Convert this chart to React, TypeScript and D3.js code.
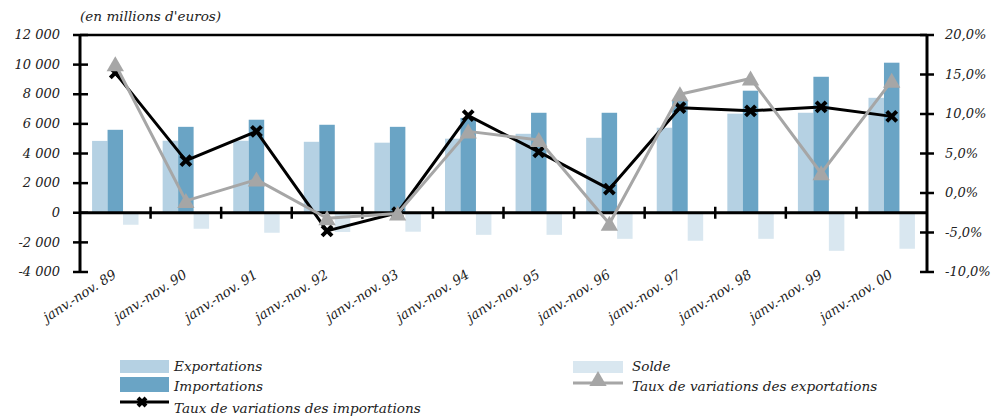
import React from 'react';
import * as d3 from 'd3';

const categories = ['janv.-nov. 89', 'janv.-nov. 90', 'janv.-nov. 91', 'janv.-nov. 92', 'janv.-nov. 93', 'janv.-nov. 94', 'janv.-nov. 95', 'janv.-nov. 96', 'janv.-nov. 97', 'janv.-nov. 98', 'janv.-nov. 99', 'janv.-nov. 00'];
const exportations = [4850, 4860, 4860, 4790, 4730, 5000, 5330, 5060, 5740, 6690, 6750, 7760];
const importations = [5600, 5800, 6280, 5940, 5800, 6400, 6750, 6750, 7560, 8240, 9180, 10130];
const solde = [-810, -1080, -1350, -1300, -1280, -1490, -1490, -1760, -1890, -1760, -2570, -2430];
const tauxImport = [15.2, 4.1, 7.8, -4.8, -2.5, 9.8, 5.2, 0.5, 10.8, 10.4, 10.9, 9.7];
const tauxExport = [16.3, -1.0, 1.7, -3.2, -2.6, 7.8, 6.7, -3.9, 12.5, 14.5, 2.5, 14.2];
const leftTicks = [-4000, -2000, 0, 2000, 4000, 6000, 8000, 10000, 12000];
const rightTicks = [-10, -5, 0, 5, 10, 15, 20];

const C_EXP = '#b5d1e3';
const C_IMP = '#6aa4c5';
const C_SOL = '#d9e7f0';
const C_GRAY = '#a6a6a6';
const FONT = '"DejaVu Serif", serif';

const fmtLeft = (v: number) => (v < 0 ? '-' : '') + d3.format(',')(Math.abs(v)).replace(/,/g, ' ');
const fmtRight = (v: number) => v.toFixed(1).replace('.', ',') + '%';

const crossPath = (s: number) => `M${-s},${-s}L${s},${s}M${-s},${s}L${s},${-s}`;

export default function App() {
  const W = 995, H = 418;
  const left = 80, right = 927, top = 35, bottom = 272;
  const x = d3.scaleBand<string>().domain(categories).range([left, right]).padding(0);
  const sub = d3.scaleBand<string>().domain(['e', 'i', 's']).range([0, x.bandwidth()]).paddingInner(0).paddingOuter(0.78);
  const y = d3.scaleLinear().domain([-4000, 12000]).range([bottom, top]);
  const y2 = d3.scaleLinear().domain([-10, 20]).range([bottom, top]);
  const cx = (c: string) => (x(c) as number) + x.bandwidth() / 2;
  const line = d3.line<number>().x((_, i) => cx(categories[i])).y(d => y2(d));
  const tri = d3.symbol().type(d3.symbolTriangle).size(130)();
  const y0 = y(0);
  const bar = (vals: number[], key: string, color: string) =>
    vals.map((v, i) => (
      <rect key={key + i} x={(x(categories[i]) as number) + (sub(key) as number)} width={sub.bandwidth()}
        y={Math.min(y(v), y0)} height={Math.abs(y(v) - y0)} fill={color} />
    ));

  return (
    <svg width={W} height={H} style={{ position: 'absolute', left: 0, top: 0 }} fontFamily={FONT} fontStyle="italic">
      <text x={80} y={21} fontSize={13.6} fill="#222">(en millions d'euros)</text>
      {bar(exportations, 'e', C_EXP)}
      {bar(importations, 'i', C_IMP)}
      {bar(solde, 's', C_SOL)}
      {/* axes */}
      <line x1={left} x2={right} y1={top} y2={top} stroke="#000" strokeWidth={2.5} />
      <line x1={left} x2={left} y1={top} y2={bottom} stroke="#000" strokeWidth={3} />
      <line x1={right} x2={right} y1={top} y2={bottom} stroke="#000" strokeWidth={3} />
      <line x1={left} x2={right} y1={y0} y2={y0} stroke="#000" strokeWidth={3} />
      {categories.slice(1).map(c => (
        <line key={'xt' + c} x1={x(c)} x2={x(c)} y1={y0 - 6} y2={y0 + 6} stroke="#000" strokeWidth={2.5} />
      ))}
      {leftTicks.map(t => (
        <g key={'lt' + t}>
          <line x1={left - 7} x2={left + 8} y1={y(t)} y2={y(t)} stroke="#000" strokeWidth={2.5} />
          <text x={60} y={y(t)} dy="0.32em" textAnchor="end" fontSize={13} fill="#222">{fmtLeft(t)}</text>
        </g>
      ))}
      {rightTicks.map(t => (
        <g key={'rt' + t}>
          <line x1={right - 7} x2={right + 7} y1={y2(t)} y2={y2(t)} stroke="#000" strokeWidth={2.5} />
          <text x={945} y={y2(t)} dy="0.32em" textAnchor="start" fontSize={13} fill="#222">{fmtRight(t)}</text>
        </g>
      ))}
      {categories.map(c => (
        <text key={'xl' + c} transform={`translate(${cx(c) + 2},${y0 + 64}) rotate(-33)`} textAnchor="end" fontSize={13.4} fill="#222">{c}</text>
      ))}
      {/* lines */}
      <path d={line(tauxImport) as string} fill="none" stroke="#000" strokeWidth={3} strokeLinejoin="round" />
      {tauxImport.map((v, i) => (
        <path key={'xm' + i} transform={`translate(${cx(categories[i])},${y2(v)})`} d={crossPath(5)} stroke="#000" strokeWidth={4} />
      ))}
      <path d={line(tauxExport) as string} fill="none" stroke={C_GRAY} strokeWidth={3} strokeLinejoin="round" />
      {tauxExport.map((v, i) => (
        <path key={'tm' + i} transform={`translate(${cx(categories[i])},${y2(v) + 2})`} d={tri as string} fill={C_GRAY} />
      ))}
      {/* legend */}
      <rect x={120} y={360} width={49} height={13} fill={C_EXP} />
      <text x={174} y={371} fontSize={13.6} fill="#222">Exportations</text>
      <rect x={120} y={377} width={49} height={15} fill={C_IMP} />
      <text x={174} y={391} fontSize={13.6} fill="#222">Importations</text>
      <line x1={120} x2={169} y1={402} y2={402} stroke="#000" strokeWidth={3} />
      <path transform="translate(142,402)" d={crossPath(4)} stroke="#000" strokeWidth={4} />
      <text x={174} y={413} fontSize={13.6} fill="#222">Taux de variations des importations</text>
      <rect x={573} y={361} width={50} height={12} fill={C_SOL} />
      <text x={632} y={371} fontSize={13.6} fill="#222">Solde</text>
      <line x1={573} x2={623} y1={383} y2={383} stroke={C_GRAY} strokeWidth={3} />
      <path transform="translate(598,381)" d={tri as string} fill={C_GRAY} />
      <text x={632} y={391} fontSize={13.6} fill="#222">Taux de variations des exportations</text>
    </svg>
  );
}
